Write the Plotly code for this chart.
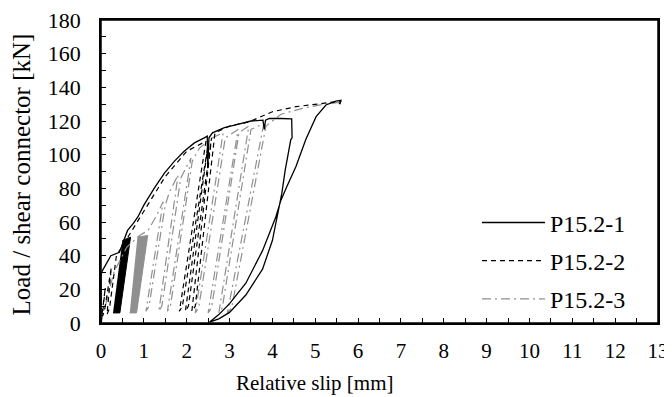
import plotly.graph_objects as go

# ---------------- data ----------------
# P15.2-1 (solid black): initial loading, envelope, final unloading / reloading
s1_x = [0.0, 0.0, 0.03, 0.23, 0.43, 0.54, 0.62, 0.75, 0.86, 1.0, 1.24, 1.48, 1.71,
        1.94, 2.18, 2.41, 2.48, 2.49, 2.52, 2.6, 2.88, 3.19, 3.5, 3.78, 3.81, 3.84,
        3.93, 4.2, 4.45, 4.46, 4.43, 4.3, 4.22, 4.0, 3.77, 3.38, 3.0, 2.75, 2.53,
        2.75, 3.0, 3.38, 3.77, 4.08, 4.2, 4.32, 4.55, 4.78, 5.02, 5.25, 5.48, 5.6, 5.57]
s1_y = [0.0, 28.5, 31, 40, 42, 49, 55, 59, 63, 70, 80, 89, 96,
        102, 107, 110, 111, 92, 110, 113, 116, 118, 120, 120.5, 115, 120.5,
        121.5, 121.5, 121.3, 110, 109, 91, 77, 49, 32, 16.6, 6.3, 2.5, 0.5,
        5, 11.5, 23.6, 43, 63, 73, 80, 93, 109, 122.6, 129.5, 131.8, 132.3, 130]
# dense fatigue-cycle band of P15.2-1 (outline corners)
band1_x = [0.28, 0.44, 0.69, 0.50]
band1_y = [6, 6, 51, 49]

# P15.2-2 (black dashed): early cycles, envelope, cycles near 2.5 mm, upper envelope
s2_x = [0.0, 0.1, 0.03, 0.08, 0.24, 0.14, 0.2, 0.36, 0.6, 1.0, 1.5, 2.0, 2.45,
        1.83, 1.9, 2.5, 1.97, 2.04, 2.58, 2.12, 2.2, 2.66, 3.0, 3.46, 4.0, 4.55,
        5.02, 5.48, 5.6, 5.55]
s2_y = [0.0, 21, 4, 7, 33, 5, 9, 40, 50, 67, 87, 102, 108,
        7, 10, 106, 7, 10, 110, 7, 10, 113, 117, 119.5, 125.5, 128.5,
        130, 131.5, 131.8, 129]

# P15.2-3 (grey dash-dot): envelope with unloading / reloading cycles
s3_x = [0.0, 0.3, 0.6, 0.9, 1.1, 1.3, 1.45, 1.05, 1.12, 1.5, 1.6, 1.8, 1.35, 1.42,
        1.86, 2.1, 1.55, 1.62, 2.13, 2.3, 2.6, 2.85, 2.2, 2.28, 2.9, 3.2, 2.5, 2.58,
        3.22, 3.45, 2.75, 2.83, 3.5, 3.8, 2.95, 3.05, 3.85, 4.2, 4.7, 5.2, 5.55, 5.6]
s3_y = [0.0, 30, 45, 52, 55, 64, 72, 7, 10, 70, 78, 88, 7, 10,
        86, 98, 7, 10, 96, 104, 110, 113, 6, 9, 110, 115, 6, 9,
        113, 117, 6, 9, 115, 118.5, 6, 9, 117, 124, 127.5, 130, 131, 128]
# dense fatigue-cycle band of P15.2-3 (outline corners)
band3_x = [0.67, 0.83, 1.09, 0.85]
band3_y = [6, 6, 52, 51]

names = ["P15.2-1", "P15.2-2", "P15.2-3"]
x_ticks = list(range(0, 14))
y_ticks = list(range(0, 181, 20))
x_title = "Relative slip [mm]"
y_title = "Load / shear connector [kN]"

FONT = "Liberation Serif"
GREY = "#8f8f8f"

fig = go.Figure()

fig.add_trace(go.Scatter(x=band1_x, y=band1_y, fill="toself", mode="lines",
                         line=dict(color="black", width=1), fillcolor="black",
                         showlegend=False, legendgroup="g1", hoverinfo="skip"))
fig.add_trace(go.Scatter(x=band3_x, y=band3_y, fill="toself", mode="lines",
                         line=dict(color=GREY, width=1), fillcolor=GREY,
                         showlegend=False, legendgroup="g3", hoverinfo="skip"))

fig.add_trace(go.Scatter(x=s3_x, y=s3_y, mode="lines", name=names[2], legendgroup="g3",
                         legendrank=3,
                         line=dict(color=GREY, width=1.2, dash="9px,4px,2px,4px")))
fig.add_trace(go.Scatter(x=s2_x, y=s2_y, mode="lines", name=names[1], legendgroup="g2",
                         legendrank=2,
                         line=dict(color="black", width=1.2, dash="5px,4px")))
fig.add_trace(go.Scatter(x=s1_x, y=s1_y, mode="lines", name=names[0], legendgroup="g1",
                         legendrank=1,
                         line=dict(color="black", width=1.3)))

axis_common = dict(showline=True, linecolor="black", linewidth=1.5, mirror=True,
                   ticks="inside", ticklen=5, tickcolor="black", tickwidth=1.2,
                   showgrid=False, zeroline=False, automargin=False,
                   ticklabeloverflow="allow")

fig.update_xaxes(range=[0, 13], tickvals=x_ticks, ticktext=[str(v) for v in x_ticks],
                 minor=dict(dtick=0.5, ticks="inside", ticklen=5, tickcolor="black",
                            tickwidth=1.2, showgrid=False),
                 tickfont=dict(family=FONT, size=21, color="black"),
                 ticklabelstandoff=8, **axis_common)
fig.update_yaxes(range=[0, 180], tickvals=y_ticks, ticktext=[str(v) for v in y_ticks],
                 minor=dict(dtick=10, ticks="inside", ticklen=5, tickcolor="black",
                            tickwidth=1.2, showgrid=False),
                 tickfont=dict(family=FONT, size=22, color="black"),
                 ticklabelstandoff=14, **axis_common)

# frame around the plot area
fig.add_shape(type="rect", xref="paper", yref="paper", x0=0, y0=0, x1=1, y1=1,
              line=dict(color="black", width=1.5), layer="above")

# axis titles placed as in the reference (x title is left of centre)
fig.add_annotation(text=x_title, xref="paper", yref="paper", x=0.384, y=-0.198,
                   xanchor="center", yanchor="middle", showarrow=False,
                   font=dict(family=FONT, size=21, color="black"))
fig.add_annotation(text=y_title, xref="paper", yref="paper", x=-0.142, y=0.49,
                   xanchor="center", yanchor="middle", showarrow=False, textangle=-90,
                   font=dict(family=FONT, size=25, color="black"))

# the page body adds an 8 px offset; sizes and margins compensate for it
fig.update_layout(
    width=664, height=389,
    margin=dict(l=93, r=14, t=12, b=74),
    paper_bgcolor="white", plot_bgcolor="white",
    showlegend=True,
    legend=dict(x=0.675, y=0.205, xanchor="left", yanchor="middle",
                traceorder="grouped", tracegroupgap=4, itemwidth=63,
                bgcolor="rgba(0,0,0,0)", borderwidth=0,
                font=dict(family=FONT, size=24, color="black")),
)

fig.write_html("out.html")
